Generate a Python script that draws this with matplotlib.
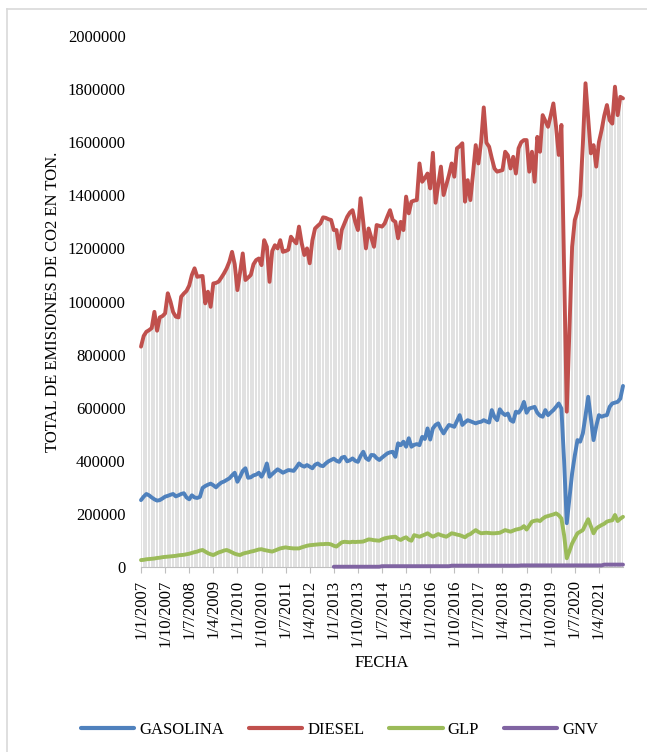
import numpy as np
import matplotlib.pyplot as plt
from matplotlib.lines import Line2D

plt.rcParams['font.family'] = ['Liberation Serif', 'DejaVu Serif']

# emisiones mensuales (miles de toneladas de CO2), ene-2007 a ene-2022
gasolina_kt = [252, 265, 275, 270, 262, 255, 250, 252, 258, 265,
               268, 272, 275, 266, 270, 275, 278, 262, 255, 270,
               262, 260, 264, 298, 305, 310, 314, 308, 300, 310,
               318, 322, 328, 334, 345, 355, 321, 340, 362, 372,
               336, 338, 345, 348, 355, 340, 360, 390, 340, 350,
               359, 368, 362, 355, 360, 365, 364, 362, 375, 390,
               382, 378, 384, 378, 372, 385, 390, 382, 380, 390,
               398, 403, 408, 400, 396, 412, 415, 398, 402, 409,
               400, 396, 418, 434, 410, 403, 422, 421, 410, 403,
               412, 420, 428, 432, 434, 415, 466, 459, 472, 453,
               485, 453, 460, 463, 459, 490, 482, 522, 480, 522,
               535, 541, 520, 503, 520, 535, 532, 528, 550, 572,
               535, 545, 553, 549, 545, 541, 545, 547, 553, 548,
               544, 591, 565, 553, 594, 580, 572, 578, 553, 547,
               585, 581, 595, 622, 581, 597, 600, 603, 581, 570,
               566, 591, 572, 582, 591, 603, 616, 597, 400, 165,
               260, 353, 420, 478, 472, 503, 570, 641, 560, 478,
               530, 572, 566, 570, 572, 603, 616, 619, 622, 634,
               682]

diesel_kt = [830, 870, 886, 892, 900, 961, 890, 940, 945, 955,
             1031, 1000, 960, 943, 940, 1018, 1030, 1040, 1060, 1100,
             1125, 1093, 1095, 1096, 993, 1037, 980, 1068, 1070, 1075,
             1090, 1106, 1125, 1150, 1187, 1140, 1043, 1110, 1181, 1081,
             1090, 1100, 1140, 1156, 1162, 1137, 1231, 1206, 1074, 1190,
             1212, 1200, 1231, 1187, 1190, 1195, 1244, 1230, 1219, 1282,
             1220, 1175, 1200, 1144, 1230, 1275, 1285, 1294, 1317, 1315,
             1310, 1307, 1269, 1269, 1200, 1270, 1294, 1319, 1335, 1344,
             1300, 1269, 1389, 1300, 1200, 1275, 1240, 1206, 1288, 1285,
             1282, 1294, 1320, 1344, 1307, 1300, 1238, 1300, 1269, 1395,
             1332, 1376, 1380, 1382, 1520, 1451, 1465, 1482, 1426, 1560,
             1372, 1440, 1508, 1401, 1439, 1476, 1520, 1470, 1577, 1585,
             1596, 1376, 1457, 1382, 1482, 1589, 1520, 1600, 1731, 1598,
             1583, 1540, 1501, 1489, 1492, 1495, 1564, 1551, 1501, 1545,
             1482, 1577, 1600, 1608, 1608, 1489, 1564, 1451, 1620, 1564,
             1702, 1680, 1658, 1700, 1746, 1658, 1552, 1665, 1130, 585,
             900, 1206, 1307, 1340, 1400, 1590, 1822, 1690, 1558, 1589,
             1508, 1600, 1645, 1700, 1740, 1683, 1670, 1809, 1702, 1771,
             1765]

glp_kt = [26, 27, 29, 30, 31, 32, 34, 35, 37, 38,
          39, 40, 41, 42, 44, 45, 46, 48, 50, 53,
          56, 58, 62, 64, 58, 52, 48, 45, 50, 55,
          58, 62, 64, 60, 55, 50, 47, 45, 50, 53,
          55, 58, 60, 63, 66, 67, 64, 62, 60, 58,
          62, 66, 70, 72, 74, 72, 71, 70, 70, 70,
          74, 77, 80, 82, 83, 84, 85, 86, 86, 87,
          87, 85, 80, 77, 85, 93, 95, 94, 93, 95,
          94, 95, 95, 96, 100, 104, 103, 101, 100, 99,
          104, 108, 110, 112, 113, 114, 106, 102, 108, 112,
          103, 99, 120, 117, 114, 118, 122, 127, 120, 114,
          119, 124, 120, 117, 114, 120, 127, 125, 122, 120,
          116, 112, 120, 124, 132, 139, 132, 127, 128, 129,
          128, 127, 127, 128, 129, 134, 139, 136, 133, 137,
          141, 143, 146, 154, 141, 156, 171, 174, 176, 173,
          182, 189, 192, 195, 198, 202, 195, 183, 120, 33,
          60, 89, 108, 127, 133, 139, 160, 180, 154, 127,
          145, 152, 158, 163, 171, 174, 176, 196, 173, 182,
          189]

# GNV se reporta desde ene-2013
gnv_inicio = 72
gnv_kt = [1, 1, 1, 1, 1, 1, 1, 1, 1, 1,
          1, 1, 1, 1, 1, 1, 1, 1, 3, 3,
          3, 3, 3, 3, 3, 3, 3, 3, 3, 3,
          3, 3, 3, 3, 3, 3, 3, 3, 3, 3,
          3, 3, 3, 3, 5, 5, 5, 5, 5, 5,
          5, 5, 5, 5, 5, 5, 5, 5, 5, 5,
          5, 5, 5, 5, 5, 5, 5, 5, 5, 5,
          6, 6, 6, 6, 6, 6, 6, 6, 6, 6,
          6, 6, 6, 6, 6, 6, 6, 6, 6, 6,
          6, 6, 6, 6, 6, 6, 6, 6, 6, 6,
          6, 9, 9, 9, 9, 9, 9, 9, 9]

fecha_labels = ['1/1/2007', '1/10/2007', '1/7/2008', '1/4/2009', '1/1/2010',
                '1/10/2010', '1/7/2011', '1/4/2012', '1/1/2013', '1/10/2013',
                '1/7/2014', '1/4/2015', '1/1/2016', '1/10/2016', '1/7/2017',
                '1/4/2018', '1/1/2019', '1/10/2019', '1/7/2020', '1/4/2021']

n = len(diesel_kt)
meses = np.arange(n)
gasolina = np.array(gasolina_kt) * 1000
diesel = np.array(diesel_kt) * 1000
glp = np.array(glp_kt) * 1000
gnv = np.full(n, np.nan)
gnv[gnv_inicio:gnv_inicio + len(gnv_kt)] = np.array(gnv_kt) * 1000

W, H = 647, 752
fig = plt.figure(figsize=(W / 100, H / 100), dpi=100)
ax = fig.add_axes([141 / W, (H - 567) / H, 482 / W, 531 / H])

# lineas de proyeccion hasta el eje
tope = np.nanmax(np.vstack([gasolina, diesel, glp, gnv]), axis=0)
ax.vlines(meses, 0, tope, color='#d9d9d9', lw=1.1, zorder=1)

series = [('GASOLINA', gasolina, '#4f81bd'),
          ('DIESEL', diesel, '#c0504d'),
          ('GLP', glp, '#9bbb59'),
          ('GNV', gnv, '#8064a2')]
for nombre, y, color in series:
    ax.plot(meses, y, color=color, lw=2.8, label=nombre, zorder=3,
            solid_joinstyle='round', solid_capstyle='round', clip_on=False)

ax.set_xlim(0, n - 1)
ax.set_ylim(0, 2000000)
ax.set_yticks(np.arange(0, 2000001, 200000))
ax.set_yticklabels([str(v) for v in range(0, 2000001, 200000)])
ax.set_xticks(np.arange(len(fecha_labels)) * 9)
ax.set_xticklabels(fecha_labels, rotation=90)

for s in ['top', 'right', 'left']:
    ax.spines[s].set_visible(False)
ax.spines['bottom'].set_color('#bfbfbf')
ax.spines['bottom'].set_linewidth(0.8)
ax.tick_params(axis='y', length=0, pad=11, labelsize=12, colors='#000000')
ax.tick_params(axis='x', length=4, width=0.8, color='#bfbfbf', pad=5, labelsize=12)

ax.set_ylabel('TOTAL DE EMISIONES DE CO2 EN TON.', fontsize=12)
ax.yaxis.set_label_coords(-0.166, 0.5)
fig.text(382 / W, 1 - 663 / H, 'FECHA', ha='center', va='center', fontsize=12)

fig.legend(loc='center', bbox_to_anchor=(0.525, 1 - 730 / H), ncol=4, frameon=False,
           fontsize=12, handlelength=3.2, handletextpad=0.3, columnspacing=1.5)
for ln in fig.legends[0].get_lines():
    ln.set_linewidth(3)
    ln.set_solid_capstyle('round')

# borde del area del grafico
fig.add_artist(Line2D([7 / W, 7 / W], [0, 1 - 9 / H], transform=fig.transFigure,
                      color='#d9d9d9', lw=1.2))
fig.add_artist(Line2D([7 / W, 1], [1 - 9 / H, 1 - 9 / H], transform=fig.transFigure,
                      color='#d9d9d9', lw=1.2))

fig.savefig('out.png', dpi=100)
